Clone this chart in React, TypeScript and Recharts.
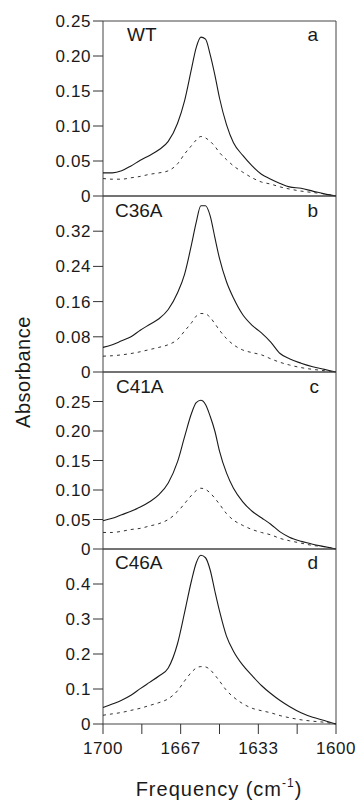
import * as React from 'react';
import { LineChart, Line, XAxis, YAxis, ReferenceArea } from 'recharts';

// frequency grid (cm-1)
const freq = [1700, 1696, 1692, 1688, 1684, 1680, 1676, 1672, 1668, 1665, 1662, 1660, 1658, 1656, 1654, 1652, 1650, 1647, 1644, 1640, 1636, 1632, 1628, 1624, 1620, 1615, 1610, 1605, 1600];

const wtSolid = [0.033, 0.033, 0.036, 0.043, 0.051, 0.058, 0.066, 0.078, 0.104, 0.136, 0.182, 0.212, 0.227, 0.224, 0.202, 0.173, 0.14, 0.102, 0.076, 0.058, 0.043, 0.031, 0.024, 0.018, 0.013, 0.011, 0.007, 0.003, 0.0];
const wtDashed = [0.025, 0.024, 0.024, 0.026, 0.028, 0.031, 0.033, 0.036, 0.046, 0.06, 0.072, 0.08, 0.085, 0.083, 0.078, 0.071, 0.062, 0.052, 0.043, 0.034, 0.026, 0.02, 0.017, 0.013, 0.01, 0.007, 0.005, 0.003, 0.0];

const c36Solid = [0.056, 0.062, 0.071, 0.08, 0.095, 0.108, 0.121, 0.142, 0.18, 0.222, 0.29, 0.34, 0.378, 0.378, 0.355, 0.306, 0.258, 0.205, 0.168, 0.13, 0.106, 0.089, 0.068, 0.042, 0.03, 0.02, 0.012, 0.006, 0.0];
const c36Dashed = [0.036, 0.037, 0.039, 0.042, 0.046, 0.051, 0.056, 0.062, 0.074, 0.093, 0.112, 0.127, 0.133, 0.132, 0.124, 0.11, 0.095, 0.076, 0.062, 0.05, 0.044, 0.039, 0.03, 0.022, 0.016, 0.01, 0.006, 0.003, 0.0];

const c41Solid = [0.048, 0.052, 0.058, 0.064, 0.071, 0.08, 0.092, 0.112, 0.148, 0.19, 0.23, 0.248, 0.252, 0.245, 0.225, 0.2, 0.166, 0.129, 0.103, 0.08, 0.064, 0.053, 0.042, 0.029, 0.02, 0.013, 0.008, 0.004, 0.0];
const c41Dashed = [0.028, 0.028, 0.03, 0.033, 0.035, 0.039, 0.043, 0.05, 0.063, 0.077, 0.091, 0.099, 0.103, 0.101, 0.095, 0.086, 0.076, 0.06, 0.049, 0.04, 0.033, 0.028, 0.024, 0.018, 0.014, 0.01, 0.006, 0.004, 0.0];

const c46Solid = [0.047, 0.057, 0.068, 0.082, 0.101, 0.119, 0.137, 0.16, 0.23, 0.318, 0.41, 0.46, 0.482, 0.475, 0.44, 0.38, 0.323, 0.251, 0.208, 0.168, 0.138, 0.11, 0.087, 0.067, 0.05, 0.032, 0.019, 0.01, 0.0];
const c46Dashed = [0.025, 0.029, 0.033, 0.039, 0.045, 0.053, 0.061, 0.072, 0.095, 0.123, 0.148, 0.16, 0.164, 0.163, 0.155, 0.14, 0.123, 0.096, 0.077, 0.058, 0.045, 0.038, 0.032, 0.024, 0.018, 0.012, 0.008, 0.005, 0.0];

const xTicks = [1700, 1683.33, 1666.67, 1650, 1633.33, 1616.67, 1600];
const xTickLabels = ['1700', '', '1667', '', '1633', '', '1600'];

const ticksA = [0, 0.05, 0.1, 0.15, 0.2, 0.25];
const ticksB = [0, 0.08, 0.16, 0.24, 0.32];
const ticksC = [0, 0.05, 0.1, 0.15, 0.2, 0.25];
const ticksD = [0, 0.1, 0.2, 0.3, 0.4];

const FONT = '"Liberation Sans", Arial, Helvetica, sans-serif';
const INK = '#1a1a1a';

interface PanelProps {
  solid: number[];
  dashed: number[];
  yMax: number;
  yTicks: number[];
  digits: number;
  top: number;
  height: number;
  showX?: boolean;
}

function Panel({ solid, dashed, yMax, yTicks, digits, top, height, showX }: PanelProps) {
  const data = freq.map((f, i) => ({ f, s: solid[i], d: dashed[i] }));
  const tickStyle = { fontSize: 17, fill: INK, fontFamily: FONT, letterSpacing: 0.6 };
  return (
    <div style={{ position: 'absolute', left: 0, top }}>
      <LineChart
        width={361}
        height={height}
        data={data}
        margin={{ top: 10, right: 25, left: 0, bottom: showX ? 0 : 10 }}
      >
        <XAxis
          dataKey="f"
          type="number"
          domain={[1600, 1700]}
          reversed
          ticks={xTicks}
          interval={0}
          hide={!showX}
          height={60}
          tickSize={10}
          tickMargin={8}
          axisLine={false}
          tickLine={{ stroke: '#333' }}
          tick={tickStyle}
          tickFormatter={(v: number, i: number) => xTickLabels[i] ?? ''}
        />
        <YAxis
          type="number"
          domain={[0, yMax]}
          ticks={yTicks}
          interval={0}
          width={103}
          tickSize={10}
          tickMargin={2}
          axisLine={false}
          tickLine={{ stroke: '#333' }}
          tick={tickStyle}
          tickFormatter={(v: number) => (v === 0 ? '0' : v.toFixed(digits))}
        />
        <ReferenceArea x1={1700} x2={1600} y1={0} y2={yMax} fill="none" stroke="#444" strokeWidth={1} />
        <Line
          type="monotone"
          dataKey="d"
          stroke="#333"
          strokeWidth={1}
          strokeDasharray="3 4"
          dot={false}
          isAnimationActive={false}
        />
        <Line
          type="monotone"
          dataKey="s"
          stroke={INK}
          strokeWidth={1.1}
          dot={false}
          isAnimationActive={false}
        />
      </LineChart>
    </div>
  );
}

export default function App() {
  const labelStyle = { fontSize: 19, fill: INK, fontFamily: FONT };
  return (
    <div style={{ position: 'absolute', left: 0, top: 0, width: 361, height: 802, background: '#fff' }}>
      <Panel solid={wtSolid} dashed={wtDashed} yMax={0.25} yTicks={ticksA} digits={2} top={11} height={195} />
      <Panel solid={c36Solid} dashed={c36Dashed} yMax={0.4} yTicks={ticksB} digits={2} top={186} height={196} />
      <Panel solid={c41Solid} dashed={c41Dashed} yMax={0.3} yTicks={ticksC} digits={2} top={362} height={197} />
      <Panel solid={c46Solid} dashed={c46Dashed} yMax={0.5} yTicks={ticksD} digits={1} top={539} height={245} showX />
      <svg width={361} height={802} style={{ position: 'absolute', left: 0, top: 0, pointerEvents: 'none' }}>
        <text x={127} y={41} {...labelStyle}>WT</text>
        <text x={318} y={41} textAnchor="end" {...labelStyle}>a</text>
        <text x={115} y={217} {...labelStyle}>C36A</text>
        <text x={318} y={217} textAnchor="end" {...labelStyle}>b</text>
        <text x={116} y={393} {...labelStyle}>C41A</text>
        <text x={319} y={393} textAnchor="end" {...labelStyle}>c</text>
        <text x={115} y={569} {...labelStyle}>C46A</text>
        <text x={318} y={569} textAnchor="end" {...labelStyle}>d</text>
        <text
          x={0}
          y={0}
          transform="translate(30,372) rotate(-90)"
          textAnchor="middle"
          fontSize={20}
          fill={INK}
          fontFamily={FONT}
          letterSpacing={0.5}
        >
          Absorbance
        </text>
        <text x={219} y={796} textAnchor="middle" fontSize={20} fill={INK} fontFamily={FONT} letterSpacing={1}>
          Frequency (cm
          <tspan fontSize={12} dy={-9}>-1</tspan>
          <tspan dy={9}>)</tspan>
        </text>
      </svg>
    </div>
  );
}
